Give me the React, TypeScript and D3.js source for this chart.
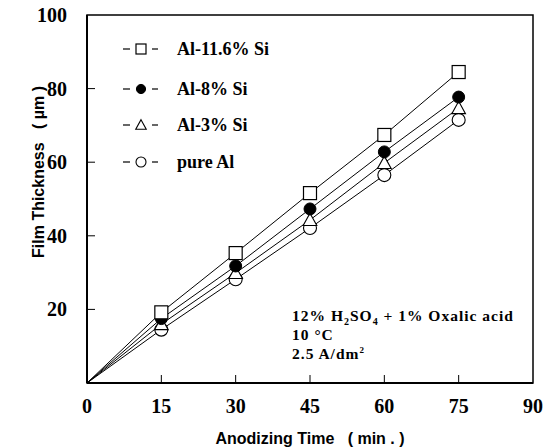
import React from "react";
import * as d3 from "d3";

const times = [15, 30, 45, 60, 75];
const al116 = [19.2, 35.3, 51.6, 67.4, 84.5];
const al8 = [17.5, 31.8, 47.3, 62.8, 77.7];
const al3 = [16.0, 29.9, 44.3, 59.8, 74.7];
const pureAl = [14.5, 28.2, 42.1, 56.5, 71.5];
const xTicks = [0, 15, 30, 45, 60, 75, 90];
const yTicks = [20, 40, 60, 80, 100];
const seriesNames = ["Al-11.6% Si", "Al-8% Si", "Al-3% Si", "pure Al"];
const seriesMarkers = ["square", "filled", "triangle", "circle"];

const W = 545, H = 448;
const M = { left: 87, right: 533, top: 15, bottom: 383 };

export default function App() {
  const x = d3.scaleLinear().domain([0, 90]).range([M.left, M.right]);
  const y = d3.scaleLinear().domain([0, 100]).range([M.bottom, M.top]);
  const all = [al116, al8, al3, pureAl];
  const serif = "'Liberation Serif', 'Times New Roman', serif";
  const sans = "'Liberation Sans', Arial, sans-serif";

  const marker = (kind: string, cx: number, cy: number, key: string, s = 6.5) => {
    if (kind === "square")
      return <rect key={key} x={cx - s} y={cy - s} width={2 * s} height={2 * s} fill="white" stroke="black" strokeWidth={1.2} />;
    if (kind === "filled")
      return <circle key={key} cx={cx} cy={cy} r={s * 0.92} fill="black" stroke="black" strokeWidth={1} />;
    if (kind === "triangle") {
      const p = d3.path();
      p.moveTo(cx, cy - s * 1.05);
      p.lineTo(cx + s * 1.05, cy + s * 0.85);
      p.lineTo(cx - s * 1.05, cy + s * 0.85);
      p.closePath();
      return <path key={key} d={p.toString()} fill="white" stroke="black" strokeWidth={1.1} />;
    }
    return <circle key={key} cx={cx} cy={cy} r={s} fill="white" stroke="black" strokeWidth={1.1} />;
  };

  const line = d3.line<[number, number]>().x(d => x(d[0])).y(d => y(d[1]));

  const legendY = [49, 89, 125, 162];
  const annX = 292;

  return (
    <svg width={W} height={H} style={{ position: "absolute", left: 0, top: 0, background: "white" }}>
      <rect x={0} y={0} width={W} height={H} fill="white" />
      {/* frame */}
      <rect x={M.left} y={M.top} width={M.right - M.left} height={M.bottom - M.top} fill="none" stroke="black" strokeWidth={1.5} />
      <line x1={M.left} x2={M.left} y1={M.top} y2={M.bottom} stroke="black" strokeWidth={2} />
      <line x1={M.left} x2={M.right} y1={M.bottom} y2={M.bottom} stroke="black" strokeWidth={2} />
      {/* ticks */}
      {xTicks.slice(1, -1).map(t => (
        <line key={"xt" + t} x1={x(t)} x2={x(t)} y1={M.bottom} y2={M.bottom - 8} stroke="black" strokeWidth={1} />
      ))}
      {yTicks.slice(0, -1).map(t => (
        <line key={"yt" + t} x1={M.left} x2={M.left + 8} y1={y(t)} y2={y(t)} stroke="black" strokeWidth={1} />
      ))}
      {/* tick labels */}
      {xTicks.map(t => (
        <text key={"xl" + t} x={x(t)} y={413} textAnchor="middle" fontFamily={serif} fontWeight="bold" fontSize={20}>{t}</text>
      ))}
      {yTicks.map(t => (
        <text key={"yl" + t} x={67} y={y(t) + 7} textAnchor="end" fontFamily={serif} fontWeight="bold" fontSize={20}>{t}</text>
      ))}
      {/* axis titles */}
      <text x={310} y={444} textAnchor="middle" fontFamily={sans} fontWeight="bold" fontSize={16} style={{ whiteSpace: "pre" }}>Anodizing Time   ( min . )</text>
      <text transform="translate(44,172) rotate(-90)" textAnchor="middle" fontFamily={sans} fontWeight="bold" fontSize={16} style={{ whiteSpace: "pre" }}>Film Thickness   ( µm )</text>
      {/* lines */}
      {all.map((vals, i) => (
        <path key={"ln" + i} d={line([[0, 0], ...times.map((t, j) => [t, vals[j]] as [number, number])]) || ""} fill="none" stroke="black" strokeWidth={1} />
      ))}
      {/* markers (draw bottom series first) */}
      {[3, 2, 1, 0].map(i =>
        times.map((t, j) => marker(seriesMarkers[i], x(t), y(all[i][j]), `m${i}-${j}`))
      )}
      {/* legend */}
      {seriesNames.map((name, i) => (
        <g key={"lg" + i}>
          <line x1={123} x2={130} y1={legendY[i]} y2={legendY[i]} stroke="black" strokeWidth={1.2} />
          <line x1={152} x2={158} y1={legendY[i]} y2={legendY[i]} stroke="black" strokeWidth={1.2} />
          {marker(seriesMarkers[i], 141, legendY[i], "lm" + i, 5)}
          <text x={177} y={legendY[i] + 6} fontFamily={serif} fontWeight="bold" fontSize={18}>{name}</text>
        </g>
      ))}
      {/* annotation */}
      <text x={annX} y={321} fontFamily={serif} fontWeight="bold" fontSize={15.5} letterSpacing={1} style={{ whiteSpace: "pre" }}>
        12% H<tspan fontSize={10} dy={4}>2</tspan><tspan dy={-4}>SO</tspan><tspan fontSize={10} dy={4}>4</tspan><tspan dy={-4}> + 1% Oxalic acid</tspan>
      </text>
      <text x={annX} y={340} fontFamily={serif} fontWeight="bold" fontSize={15.5} letterSpacing={1} style={{ whiteSpace: "pre" }}>10 °C</text>
      <text x={annX} y={359} fontFamily={serif} fontWeight="bold" fontSize={15.5} letterSpacing={1}>
        2.5 A/dm<tspan fontSize={9} dy={-6}>2</tspan>
      </text>
    </svg>
  );
}
